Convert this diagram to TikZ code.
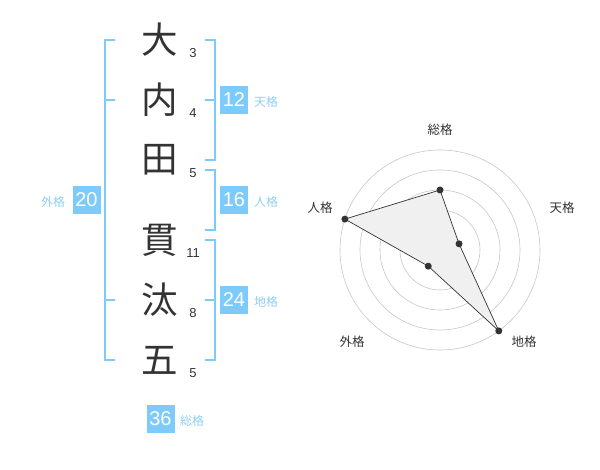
\documentclass[tikz,border=0pt]{standalone}
\usepackage{fontspec}
\usetikzlibrary{calc}
\setmainfont{Noto Sans CJK JP}
\newfontfamily\numfont{Liberation Sans}
\definecolor{boxblue}{HTML}{7DCBFA}
\definecolor{lblblue}{HTML}{8ECFF5}
\definecolor{ink}{HTML}{333333}
\begin{document}
\begin{tikzpicture}[x=1pt,y=1pt,
  kanji/.style={font=\fontsize{36.5}{36.5}\selectfont, text=ink, inner sep=0},
  strokenum/.style={font=\numfont\fontsize{13}{13}\selectfont, text=ink, inner sep=0},
  valbox/.style={fill=boxblue, text=white, minimum size=28pt, inner sep=0, font=\numfont\fontsize{20}{20}\selectfont},
  gelabel/.style={text=lblblue, font=\fontsize{12}{12}\selectfont, inner sep=0},
  bracket/.style={draw=boxblue, line width=1.6pt},
  ring/.style={draw=black!22, line width=0.6pt},
  axislabel/.style={text=ink, font=\fontsize{12.5}{12.5}\selectfont, inner sep=0},
  dot/.style={circle, fill=ink, minimum size=7pt, inner sep=0}]
\useasboundingbox (0,0) rectangle (600,-470);

% name characters
\node[kanji] (k1) at (160,-40) {大};
\node[kanji] (k2) at (160,-100) {内};
\node[kanji] (k3) at (160,-160) {田};
\node[kanji] (k4) at (160,-240) {貫};
\node[kanji] (k5) at (160,-300) {汰};
\node[kanji] (k6) at (160,-360) {五};

% stroke counts
\node[strokenum] (s1) at (193,-53) {3};
\node[strokenum] (s2) at (193,-113) {4};
\node[strokenum] (s3) at (193,-173) {5};
\node[strokenum] (s4) at (193,-253) {11};
\node[strokenum] (s5) at (193,-313) {8};
\node[strokenum] (s6) at (193,-373) {5};

% brackets
\draw[bracket] (115,-40) -- (105,-40) -- (105,-360) -- (115,-360);
\draw[bracket] (105,-100) -- (115,-100);
\draw[bracket] (105,-300) -- (115,-300);
\draw[bracket] (205,-40) -- (215,-40) -- (215,-160) -- (205,-160);
\draw[bracket] (205,-100) -- (215,-100);
\draw[bracket] (205,-170) -- (215,-170) -- (215,-230) -- (205,-230);
\draw[bracket] (205,-240) -- (215,-240) -- (215,-360) -- (205,-360);
\draw[bracket] (205,-300) -- (215,-300);

% value boxes
\node[valbox] (ten) at (234,-100) {12};
\node[gelabel] (tenl) at (266,-102) {天格};
\node[valbox] (jin) at (234,-200) {16};
\node[gelabel] (jinl) at (266,-202) {人格};
\node[valbox] (chi) at (234,-300) {24};
\node[gelabel] (chil) at (266,-302) {地格};
\node[valbox] (gai) at (86.5,-200) {20};
\node[gelabel] (gail) at (53,-202) {外格};
\node[valbox] (sou) at (160.5,-419) {36};
\node[gelabel] (soul) at (192,-421) {総格};

% radar chart
\coordinate (c) at (440,-250);
\foreach \r in {20,40,60,80,100} \draw[ring] (c) circle (\r);
\fill[black!22] (c) circle (4);
\coordinate (p1) at ($(c)+(90:60)$);
\coordinate (p2) at ($(c)+(18:20)$);
\coordinate (p3) at ($(c)+(-54:100)$);
\coordinate (p4) at ($(c)+(234:20)$);
\coordinate (p5) at ($(c)+(162:100)$);
\draw[fill=black!6, draw=ink, line width=0.7pt] (p1) -- (p2) -- (p3) -- (p4) -- (p5) -- cycle;
\foreach \p in {p1,p2,p3,p4,p5} \node[dot] at (\p) {};

\node[axislabel] (a1) at (440,-130) {総格};
\node[axislabel] (a2) at (562,-208) {天格};
\node[axislabel] (a3) at (524,-342) {地格};
\node[axislabel] (a4) at (352,-342) {外格};
\node[axislabel] (a5) at (320,-208) {人格};
\end{tikzpicture}
\end{document}
